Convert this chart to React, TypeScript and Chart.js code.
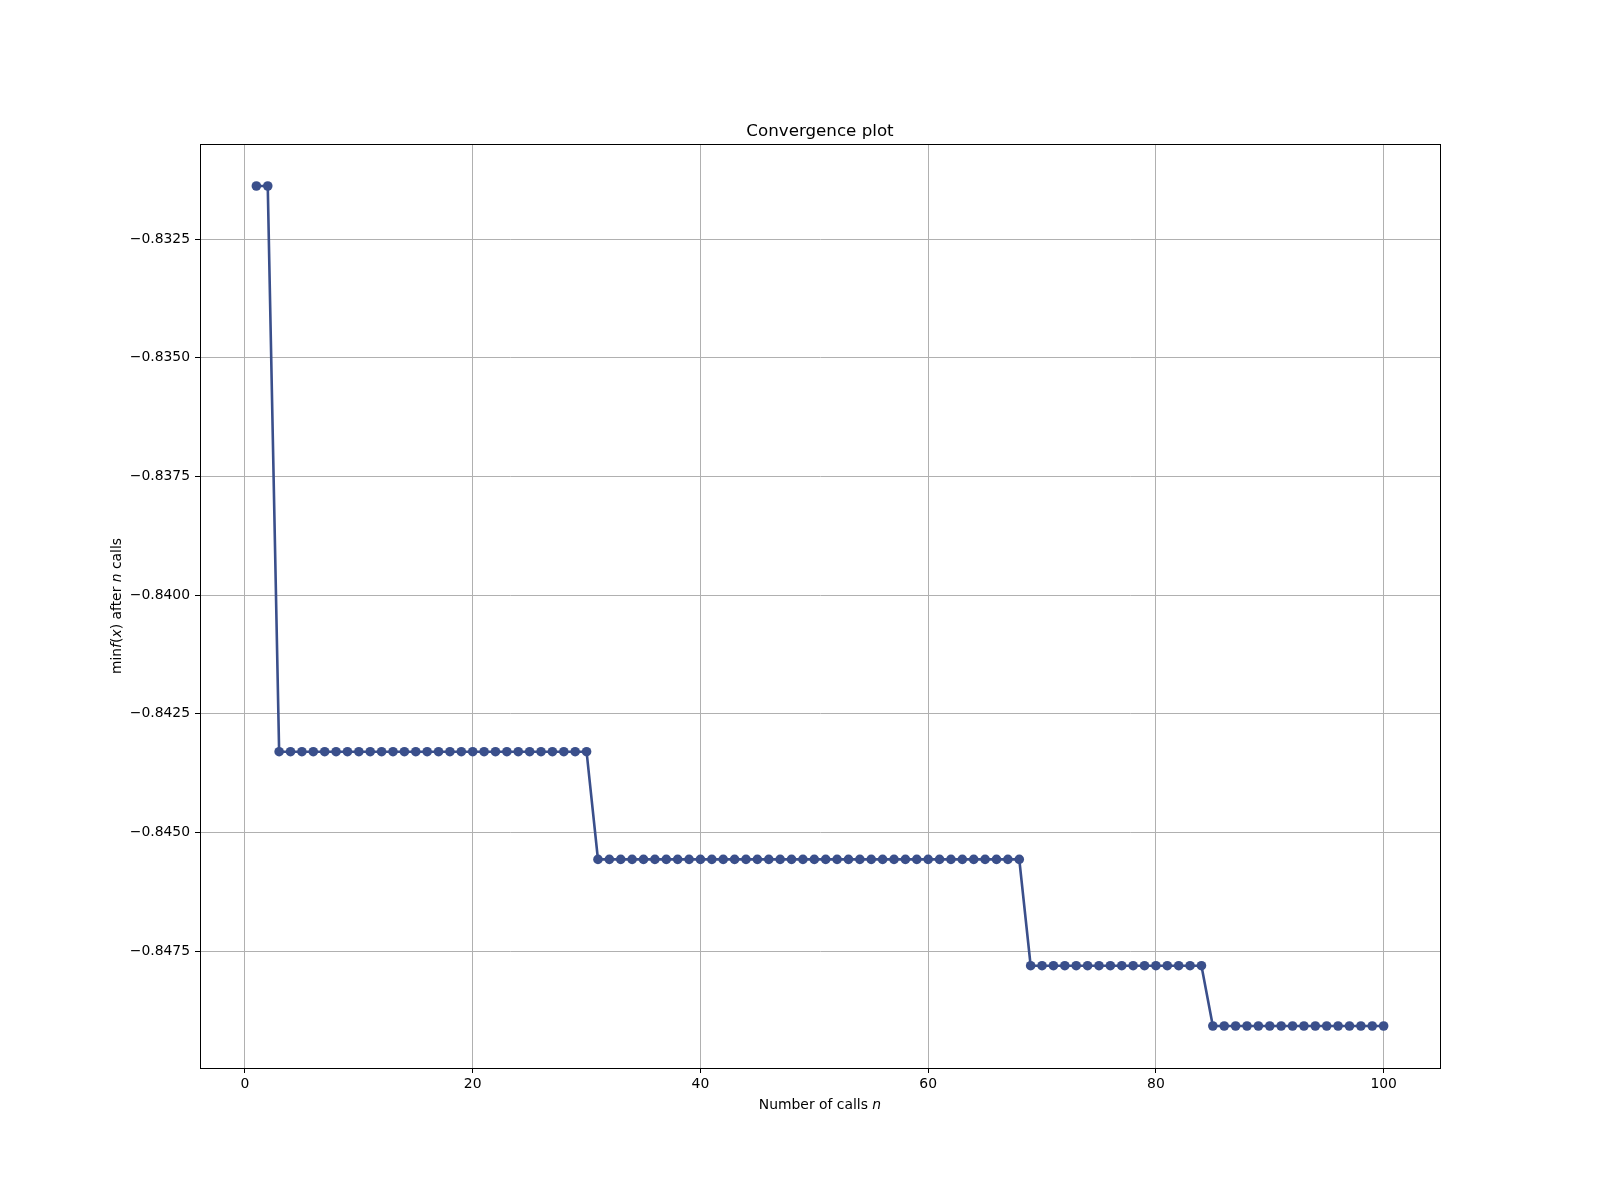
import React, { useEffect, useRef } from "react";
import { Chart, registerables } from "chart.js";

Chart.register(...registerables);

const calls: number[] = Array.from({ length: 100 }, (_, i) => i + 1);

const minValues: number[] = [
  -0.83138, -0.83138,
  -0.8433, -0.8433, -0.8433, -0.8433, -0.8433, -0.8433, -0.8433, -0.8433, -0.8433, -0.8433,
  -0.8433, -0.8433, -0.8433, -0.8433, -0.8433, -0.8433, -0.8433, -0.8433, -0.8433, -0.8433,
  -0.8433, -0.8433, -0.8433, -0.8433, -0.8433, -0.8433, -0.8433, -0.8433,
  -0.84557, -0.84557, -0.84557, -0.84557, -0.84557, -0.84557, -0.84557, -0.84557, -0.84557, -0.84557,
  -0.84557, -0.84557, -0.84557, -0.84557, -0.84557, -0.84557, -0.84557, -0.84557, -0.84557, -0.84557,
  -0.84557, -0.84557, -0.84557, -0.84557, -0.84557, -0.84557, -0.84557, -0.84557, -0.84557, -0.84557,
  -0.84557, -0.84557, -0.84557, -0.84557, -0.84557, -0.84557, -0.84557, -0.84557,
  -0.84781, -0.84781, -0.84781, -0.84781, -0.84781, -0.84781, -0.84781, -0.84781,
  -0.84781, -0.84781, -0.84781, -0.84781, -0.84781, -0.84781, -0.84781, -0.84781,
  -0.84908, -0.84908, -0.84908, -0.84908, -0.84908, -0.84908, -0.84908, -0.84908,
  -0.84908, -0.84908, -0.84908, -0.84908, -0.84908, -0.84908, -0.84908, -0.84908,
];

const xTicks: number[] = [0, 20, 40, 60, 80, 100];
const yTicks: number[] = [-0.8325, -0.835, -0.8375, -0.84, -0.8425, -0.845, -0.8475];

const FONT = "'DejaVu Sans', sans-serif";
const LINE_COLOR = "#3a4f8b";

type Seg = { t: string; it?: boolean };

function drawMixed(ctx: CanvasRenderingContext2D, segs: Seg[], size: number) {
  const fontFor = (s: Seg) => `${s.it ? "oblique " : ""}${size}px ${FONT}`;
  let total = 0;
  const widths = segs.map((s) => {
    ctx.font = fontFor(s);
    const w = ctx.measureText(s.t).width;
    total += w;
    return w;
  });
  let x = -total / 2;
  ctx.textAlign = "left";
  segs.forEach((s, i) => {
    ctx.font = fontFor(s);
    ctx.fillText(s.t, x, 0);
    x += widths[i];
  });
}

const decorPlugin = {
  id: "decor",
  afterDraw(chart: any) {
    const { ctx, chartArea } = chart;
    const { left, right, top, bottom } = chartArea;
    ctx.save();
    ctx.strokeStyle = "#000";
    ctx.lineWidth = 1;
    ctx.strokeRect(Math.round(left) + 0.5, Math.round(top) + 0.5, Math.round(right - left), Math.round(bottom - top));
    ctx.fillStyle = "#000";
    // title
    ctx.textBaseline = "alphabetic";
    ctx.textAlign = "center";
    ctx.font = `16.7px ${FONT}`;
    ctx.fillText("Convergence plot", (left + right) / 2, top - 8);
    // x label
    ctx.save();
    ctx.translate((left + right) / 2, 1109);
    drawMixed(ctx, [{ t: "Number of calls " }, { t: "n", it: true }], 13.9);
    ctx.restore();
    // y label
    ctx.save();
    ctx.translate(121, (top + bottom) / 2);
    ctx.rotate(-Math.PI / 2);
    drawMixed(
      ctx,
      [
        { t: "min" },
        { t: "f", it: true },
        { t: "(" },
        { t: "x", it: true },
        { t: ") after " },
        { t: "n", it: true },
        { t: " calls" },
      ],
      13.9
    );
    ctx.restore();
    ctx.restore();
  },
};

export default function App() {
  const ref = useRef<HTMLCanvasElement | null>(null);
  useEffect(() => {
    document.body.style.margin = "0";
    if (!ref.current) return;
    const vmax = Math.max(...minValues);
    const vmin = Math.min(...minValues);
    const yr = vmax - vmin;
    const xr = calls[calls.length - 1] - calls[0];
    const chart = new Chart(ref.current, {
      type: "line",
      data: {
        datasets: [
          {
            data: calls.map((c, i) => ({ x: c, y: minValues[i] })),
            borderColor: LINE_COLOR,
            backgroundColor: LINE_COLOR,
            borderWidth: 2.6,
            pointRadius: 4.8,
            pointBorderWidth: 0,
            pointBackgroundColor: LINE_COLOR,
            tension: 0,
          },
        ],
      },
      options: {
        responsive: false,
        animation: false,
        devicePixelRatio: 1,
        layout: { padding: { top: 144, right: 160, left: 0, bottom: 0 } },
        plugins: { legend: { display: false }, title: { display: false }, tooltip: { enabled: false } },
        scales: {
          x: {
            type: "linear",
            min: calls[0] - 0.05 * xr,
            max: calls[calls.length - 1] + 0.05 * xr,
            afterBuildTicks: (s: any) => {
              s.ticks = xTicks.map((v) => ({ value: v }));
            },
            afterFit: (s: any) => {
              s.height = 132;
            },
            grid: { color: "#b0b0b0", lineWidth: 1, tickColor: "#000", tickLength: 5 },
            border: { color: "#000", width: 1 },
            ticks: {
              color: "#000",
              font: { family: FONT, size: 13.9 },
              padding: 3,
              maxRotation: 0,
              autoSkip: false,
              callback: (v: any) => String(v),
            },
          },
          y: {
            type: "linear",
            min: vmin - 0.05 * yr,
            max: vmax + 0.05 * yr,
            afterBuildTicks: (s: any) => {
              s.ticks = yTicks.map((v) => ({ value: v }));
            },
            afterFit: (s: any) => {
              s.width = 200;
            },
            grid: { color: "#b0b0b0", lineWidth: 1, tickColor: "#000", tickLength: 5 },
            border: { color: "#000", width: 1 },
            ticks: {
              color: "#000",
              font: { family: FONT, size: 13.9 },
              padding: 5,
              autoSkip: false,
              callback: (v: any) => "\u2212" + Math.abs(Number(v)).toFixed(4),
            },
          },
        },
      },
      plugins: [decorPlugin],
    } as any);
    return () => chart.destroy();
  }, []);
  return (
    <div style={{ width: 1600, height: 1200, background: "#fff" }}>
      <canvas ref={ref} width={1600} height={1200} style={{ display: "block" }} />
    </div>
  );
}
